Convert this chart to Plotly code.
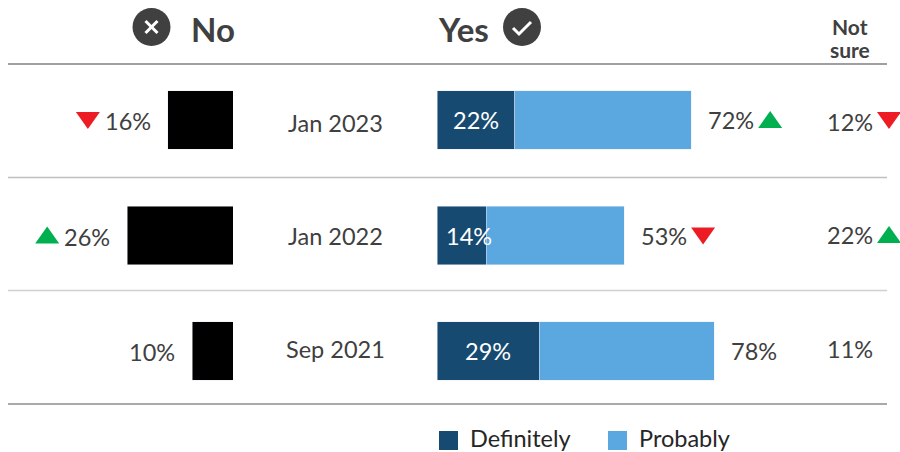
import plotly.graph_objects as go

periods = ["Jan 2023", "Jan 2022", "Sep 2021"]
no_vals = [16, 26, 10]
definitely = [22, 14, 29]
yes_totals = [72, 53, 78]
probably = [50, 39, 49.5]
not_sure = [12, 22, 11]
no_trend = ["down", "up", None]
yes_trend = ["up", "down", None]
ns_trend = ["down", "up", None]

W, H = 900, 452
TXT = "#404040"
FONT = "Lato"
RED, GREEN = "#ED1C24", "#00B050"
DARK, LIGHT = "#174A70", "#5BA7E0"
px = lambda v: v / W
py = lambda v: 1 - v / H

fig = go.Figure()
fig.add_bar(y=periods, x=no_vals, orientation="h", marker_color="#000000", xaxis="x", yaxis="y",
            width=0.505, showlegend=False, name="No")
fig.add_bar(y=periods, x=definitely, orientation="h", marker_color=DARK, xaxis="x2", yaxis="y",
            width=0.505, name="Definitely", showlegend=False)
fig.add_bar(y=periods, x=probably, orientation="h", marker_color=LIGHT, xaxis="x2", yaxis="y",
            width=0.505, name="Probably", showlegend=False)

ann, shapes = [], []

def note(text, x, y, xref="paper", yref="paper", anchor="center", size=23.5, color=TXT, bold=False, xshift=0, yshift=0):
    ann.append(dict(text=f"<b>{text}</b>" if bold else text, x=x, y=y, xref=xref, yref=yref, xanchor=anchor,
                    yanchor="middle", showarrow=False, font=dict(family=FONT, size=size, color=color),
                    xshift=xshift, yshift=yshift))

def tri(direction, xval, xref, i, dx):
    s = -1 if direction == "down" else 1
    color = RED if direction == "down" else GREEN
    path = f"M {dx-12},{-8*s} L {dx+12},{-8*s} L {dx},{9*s} Z"
    shapes.append(dict(type="path", path=path, xsizemode="pixel", ysizemode="pixel", xanchor=xval, yanchor=i,
                       xref=xref, yref="y", fillcolor=color, line_width=0))

for i, p in enumerate(periods):
    note(f"{no_vals[i]}%", no_vals[i], p, xref="x", yref="y", anchor="right", xshift=-15, yshift=-1)
    if no_trend[i]:
        tri(no_trend[i], no_vals[i], "x", i, -80)
    note(p, px(335), py([122.5, 235.5, 348.5][i]))
    note(f"{definitely[i]}%", definitely[i] / 2, p, xref="x2", yref="y", color="#FFFFFF",
         xshift=7 if i == 1 else 0)
    note(f"{yes_totals[i]}%", definitely[i] + probably[i], p, xref="x2", yref="y", anchor="left", xshift=15)
    if yes_trend[i]:
        tri(yes_trend[i], definitely[i] + probably[i], "x2", i, 79)
    note(f"{not_sure[i]}%", px(850), py([122, 235, 349][i]))

# Not sure trend triangles sit in a fixed column
for i, d in enumerate(ns_trend):
    if d:
        s = -1 if d == "down" else 1
        cy = [120, 235][i]
        c = RED if d == "down" else GREEN
        shapes.append(dict(type="path", xref="paper", yref="paper", fillcolor=c, line_width=0,
            path=f"M {px(877)},{py(cy+8*s)} L {px(901)},{py(cy+8*s)} L {px(889)},{py(cy-9*s)} Z"))

# Row rules
for yy, col in [(64, "#7F7F7F"), (177.5, "#BFBFBF"), (290.5, "#D0D0D0"), (404, "#8C8C8C")]:
    shapes.append(dict(type="line", xref="paper", yref="paper", x0=px(8), x1=px(887), y0=py(yy), y1=py(yy),
                       line=dict(color=col, width=1.3)))

# Header icons
def circle(cx, cy, r=19):
    shapes.append(dict(type="circle", xref="paper", yref="paper", x0=px(cx - r), x1=px(cx + r), y0=py(cy + r), y1=py(cy - r),
                       fillcolor=TXT, line_width=0))
def stroke(pts):
    d = "M " + " L ".join(f"{px(a)},{py(b)}" for a, b in pts)
    shapes.append(dict(type="path", xref="paper", yref="paper", path=d, line=dict(color="#FFFFFF", width=3)))

circle(151.5, 27)
stroke([(145.5, 21), (157.5, 33)])
stroke([(157.5, 21), (145.5, 33)])
circle(522, 27)
stroke([(513, 28), (519, 34), (531, 22)])

note("No", px(212.5), py(29), size=33, bold=True)
note("Yes", px(463), py(29), size=33, bold=True)
note("Not", px(850), py(26.5), size=21, bold=True)
note("sure", px(850), py(49.5), size=21, bold=True)

# Legend
for x0, col, lab in [(439, DARK, "Definitely"), (608, LIGHT, "Probably")]:
    shapes.append(dict(type="rect", xref="paper", yref="paper", x0=px(x0), x1=px(x0 + 19), y0=py(450), y1=py(431),
                       fillcolor=col, line_width=0))
    note(lab, px(x0 + 29), py(438), anchor="left", size=23.5, color="#262626")

hidden = dict(visible=False, fixedrange=True)
fig.update_layout(
    width=W, height=H, margin=dict(l=0, r=0, t=0, b=0), barmode="stack",
    paper_bgcolor="white", plot_bgcolor="white", bargap=0.5,
    xaxis=dict(domain=[0, 233 / W], range=[233 / 4.07, 0], anchor="y", **hidden),
    xaxis2=dict(domain=[437 / W, 887 / W], range=[0, 450 / 3.53], anchor="y", **hidden),
    yaxis=dict(domain=[py(408.75), py(62.25)], categoryorder="array", categoryarray=periods,
               range=[2.5, -0.5], **hidden),
    annotations=ann, shapes=shapes,
)
fig.write_html("out.html", config={"displayModeBar": False}, post_script="document.body.style.margin='0';")
